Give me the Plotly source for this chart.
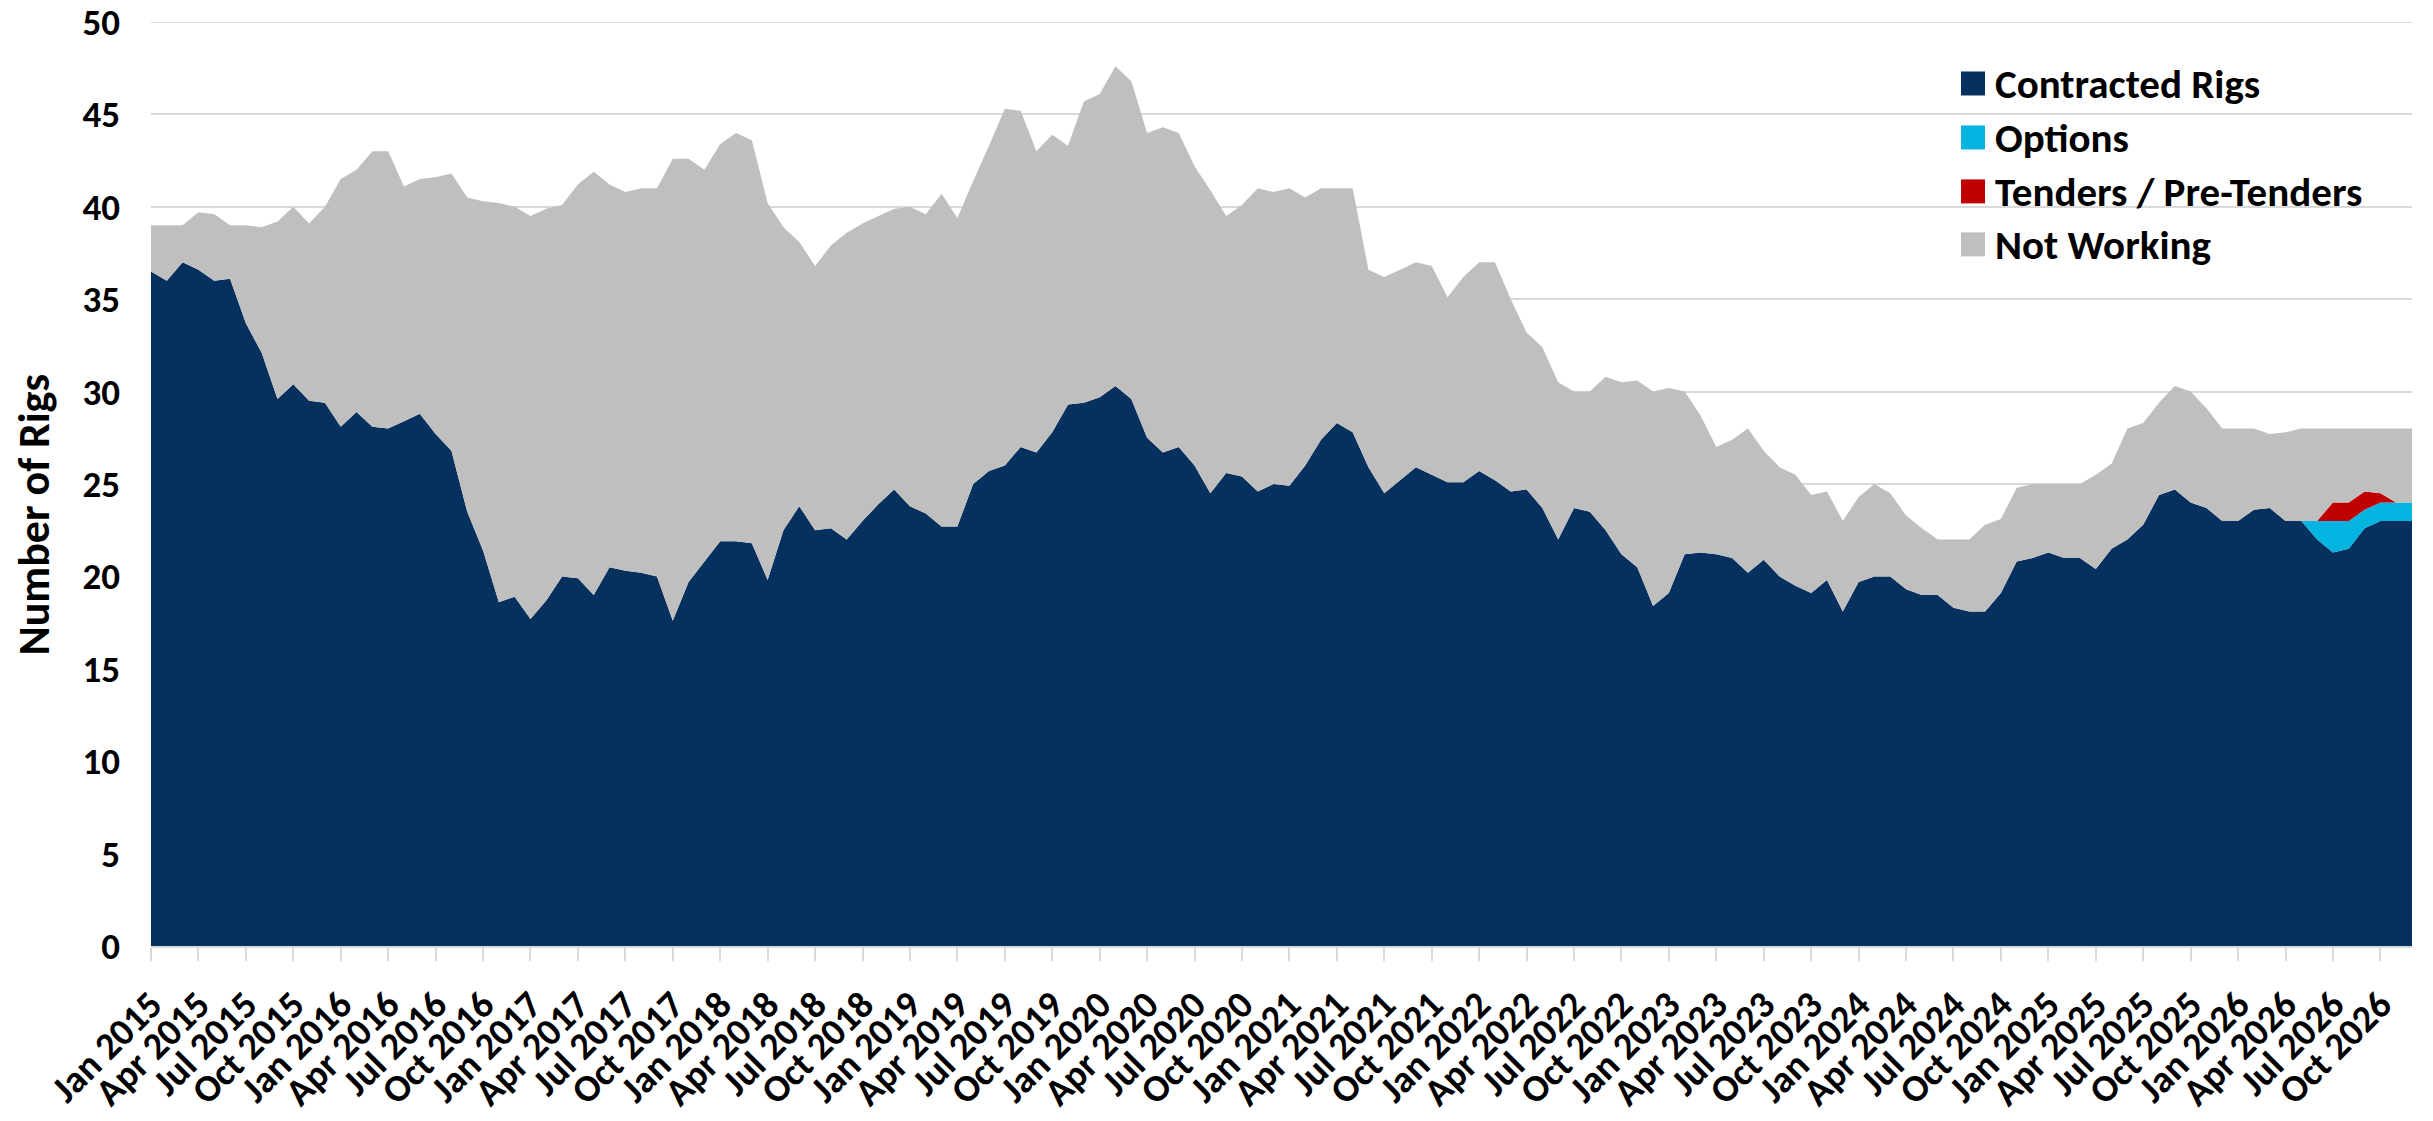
import plotly.graph_objects as go

# ---------------- data ----------------
month_names = ["Jan", "Feb", "Mar", "Apr", "May", "Jun",
               "Jul", "Aug", "Sep", "Oct", "Nov", "Dec"]
years = list(range(2015, 2027))
months = [f"{m} {y}" for y in years for m in month_names]  # Jan 2015 .. Dec 2026

contracted = [
    36.5, 36.0, 37.0, 36.6, 36.0, 36.1, 33.7, 32.1, 29.6, 30.4, 29.5, 29.4,   # 2015
    28.1, 28.9, 28.1, 28.0, 28.4, 28.8, 27.7, 26.8, 23.5, 21.4, 18.6, 18.9,   # 2016
    17.7, 18.7, 20.0, 19.9, 19.0, 20.5, 20.3, 20.2, 20.0, 17.6, 19.7, 20.8,   # 2017
    21.9, 21.9, 21.8, 19.8, 22.5, 23.8, 22.5, 22.6, 22.0, 23.0, 23.9, 24.7,   # 2018
    23.8, 23.4, 22.7, 22.7, 25.0, 25.7, 26.0, 27.0, 26.7, 27.8, 29.3, 29.4,   # 2019
    29.7, 30.3, 29.6, 27.5, 26.7, 27.0, 26.0, 24.5, 25.6, 25.4, 24.6, 25.0,   # 2020
    24.9, 26.0, 27.4, 28.3, 27.8, 25.9, 24.5, 25.2, 25.9, 25.5, 25.1, 25.1,   # 2021
    25.7, 25.2, 24.6, 24.7, 23.7, 22.0, 23.7, 23.5, 22.5, 21.2, 20.5, 18.4,   # 2022
    19.1, 21.2, 21.3, 21.2, 21.0, 20.2, 20.9, 20.0, 19.5, 19.1, 19.8, 18.1,   # 2023
    19.7, 20.0, 20.0, 19.3, 19.0, 19.0, 18.3, 18.1, 18.1, 19.1, 20.8, 21.0,   # 2024
    21.3, 21.0, 21.0, 20.4, 21.5, 22.0, 22.8, 24.4, 24.7, 24.0, 23.7, 23.0,   # 2025
    23.0, 23.6, 23.7, 23.0, 23.0, 22.0, 21.3, 21.5, 22.6, 23.0, 23.0, 23.0,   # 2026
]

options = [0] * 137 + [1.0, 1.7, 1.5, 1.0, 1.0, 1.0, 1.0]

tenders = [0] * 138 + [1.0, 1.0, 1.0, 0.5, 0, 0]

# total fleet (top of the stack)
total_fleet = [
    39.0, 39.0, 39.0, 39.7, 39.6, 39.0, 39.0, 38.9, 39.2, 40.0, 39.1, 40.0,   # 2015
    41.5, 42.0, 43.0, 43.0, 41.1, 41.5, 41.6, 41.8, 40.5, 40.3, 40.2, 40.0,   # 2016
    39.5, 39.9, 40.1, 41.2, 41.9, 41.2, 40.8, 41.0, 41.0, 42.6, 42.6, 42.0,   # 2017
    43.4, 44.0, 43.6, 40.2, 38.9, 38.1, 36.8, 37.9, 38.6, 39.1, 39.5, 39.9,   # 2018
    40.0, 39.6, 40.7, 39.4, 41.4, 43.3, 45.3, 45.2, 43.0, 43.9, 43.3, 45.7,   # 2019
    46.1, 47.6, 46.8, 44.0, 44.3, 44.0, 42.2, 40.9, 39.5, 40.1, 41.0, 40.8,   # 2020
    41.0, 40.5, 41.0, 41.0, 41.0, 36.6, 36.2, 36.6, 37.0, 36.8, 35.1, 36.2,   # 2021
    37.0, 37.0, 35.0, 33.2, 32.4, 30.5, 30.0, 30.0, 30.8, 30.5, 30.6, 30.0,   # 2022
    30.2, 30.0, 28.7, 27.0, 27.4, 28.0, 26.8, 25.9, 25.5, 24.4, 24.6, 23.0,   # 2023
    24.3, 25.0, 24.5, 23.3, 22.6, 22.0, 22.0, 22.0, 22.8, 23.1, 24.8, 25.0,   # 2024
    25.0, 25.0, 25.0, 25.5, 26.1, 28.0, 28.3, 29.4, 30.3, 30.0, 29.1, 28.0,   # 2025
    28.0, 28.0, 27.7, 27.8, 28.0, 28.0, 28.0, 28.0, 28.0, 28.0, 28.0, 28.0,   # 2026
]

not_working = [round(t - c - o - tn, 2)
               for t, c, o, tn in zip(total_fleet, contracted, options, tenders)]

tick_labels = months[::3]  # Jan/Apr/Jul/Oct labels

series_names = ["Contracted Rigs", "Options", "Tenders / Pre-Tenders", "Not Working"]
series_values = [contracted, options, tenders, not_working]
series_colors = ["#06305E", "#03B3E0", "#C00000", "#BFBFBF"]

# ---------------- figure ----------------
OFF = 8                      # default body margin of the html page
W, H = 2433 - OFF, 1121 - OFF
PLOT_LEFT, PLOT_RIGHT, PLOT_TOP, PLOT_BOTTOM = 151, 2412, 21.5, 946  # page px
L = PLOT_LEFT - OFF
T = PLOT_TOP - OFF
R = W - (PLOT_RIGHT - OFF)
B = H - (PLOT_BOTTOM - OFF)
FONT = "Calibri, Carlito, Lato, sans-serif"

fig = go.Figure()
for name, vals, col in zip(series_names, series_values, series_colors):
    fig.add_trace(go.Scatter(
        x=months, y=vals, name=name, mode="lines",
        stackgroup="one", line=dict(width=0, color=col),
        fillcolor=col, showlegend=False,
    ))


def px_x(px):
    return (px - PLOT_LEFT) / (PLOT_RIGHT - PLOT_LEFT)


def px_y(py):
    return (PLOT_BOTTOM - py) / (PLOT_BOTTOM - PLOT_TOP)


# top gridline at 50 (edge of the plot area)
shapes = [dict(type="line", xref="paper", yref="y", x0=0, x1=1, y0=50, y1=50,
               line=dict(color="#D9D9D9", width=2), layer="below")]
annotations = []
leg_rows = [83, 137, 191, 244]
for name, col, yc in zip(series_names, series_colors, leg_rows):
    shapes.append(dict(type="rect", xref="paper", yref="paper",
                       x0=px_x(1961), x1=px_x(1985),
                       y0=px_y(yc + 12), y1=px_y(yc - 12),
                       fillcolor=col, line=dict(width=0)))
    annotations.append(dict(text=name, xref="paper", yref="paper",
                            x=px_x(1993), y=px_y(yc + 1), xanchor="left",
                            yanchor="middle", showarrow=False,
                            font=dict(family=FONT, size=41, color="black",
                                      weight="bold")))

annotations.append(dict(text="Number of Rigs", xref="paper", yref="paper",
                        x=px_x(34), y=px_y(515), xanchor="center",
                        yanchor="middle", textangle=-90, showarrow=False,
                        font=dict(family=FONT, size=44, color="black",
                                  weight="bold")))

fig.update_layout(
    width=W, height=H,
    margin=dict(l=L, r=R, t=T, b=B, pad=0, autoexpand=False),
    paper_bgcolor="white", plot_bgcolor="white",
    font=dict(family=FONT, color="black"),
    shapes=shapes, annotations=annotations,
    showlegend=False,
)

fig.update_xaxes(
    type="category", range=[0, len(months) - 1], automargin=False,
    tickmode="array", tickvals=tick_labels, ticktext=tick_labels,
    tickangle=-45, ticks="outside", ticklen=13, tickwidth=2,
    tickcolor="#D9D9D9", showline=True, linecolor="#D9D9D9", linewidth=2,
    showgrid=False, zeroline=False, ticklabeloverflow="allow",
    ticklabelstandoff=6,
    tickfont=dict(family=FONT, size=38, color="black", weight="bold"),
)
fig.update_yaxes(
    range=[0, 50], dtick=5, tick0=0, showgrid=True, gridcolor="#D9D9D9",
    gridwidth=2, zeroline=False, showline=False, ticks="", automargin=False,
    ticklabelstandoff=30, ticklabeloverflow="allow",
    tickfont=dict(family=FONT, size=37, color="black", weight="bold"),
)

fig.write_html("out.html")
